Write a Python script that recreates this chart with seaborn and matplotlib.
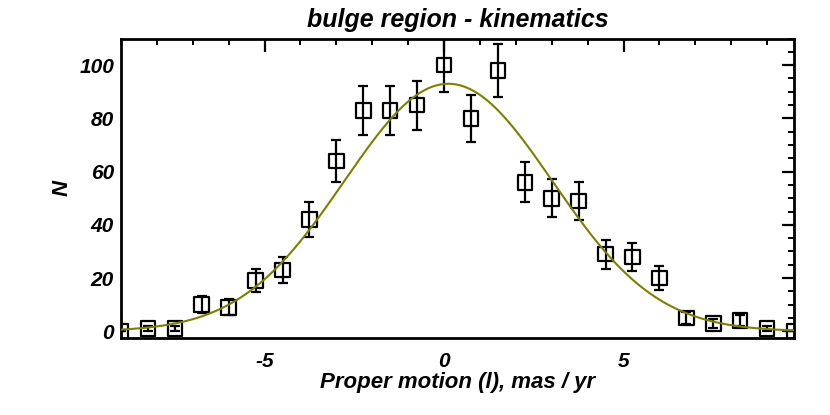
import numpy as np
import pandas as pd
import matplotlib
matplotlib.use("Agg")
import matplotlib.pyplot as plt
import seaborn as sns
from matplotlib.ticker import MultipleLocator
from matplotlib import font_manager

# ---- data ----
pm = [-9.0, -8.25, -7.5, -6.75, -6.0, -5.25, -4.5, -3.75, -3.0, -2.25, -1.5, -0.75,
      0.0, 0.75, 1.5, 2.25, 3.0, 3.75, 4.5, 5.25, 6.0, 6.75, 7.5, 8.25, 9.0, 9.75]
counts = [0, 1, 1, 10, 9, 19, 23, 42, 64, 83, 83, 85,
          100, 80, 98, 56, 50, 49, 29, 28, 20, 5, 3, 4, 1, 0]
errors = [0, 1, 1, 3.2, 3.0, 4.4, 4.8, 6.5, 8.0, 9.1, 9.1, 9.2,
          10.0, 8.9, 9.9, 7.5, 7.1, 7.0, 5.4, 5.3, 4.5, 2.2, 1.7, 2.0, 1.0, 0]
# Gaussian fit parameters (amplitude, centre, sigma)
fit_amp, fit_mu, fit_sigma = 93.0, 0.12, 2.9

title = "bulge region - kinematics"
xlabel = "Proper motion (l), mas / yr"
ylabel = "N"

sns.set_theme(style="white")
names = {f.name for f in font_manager.fontManager.ttflist}
narrow = [n for n in ['Liberation Sans Narrow', 'DejaVu Sans Condensed'] if n in names]
plt.rcParams['font.family'] = narrow + ['Liberation Sans', 'DejaVu Sans']
plt.rcParams['axes.unicode_minus'] = False
plt.rcParams['text.color'] = 'black'
plt.rcParams['axes.labelcolor'] = 'black'
plt.rcParams['xtick.color'] = 'black'
plt.rcParams['ytick.color'] = 'black'

fig = plt.figure(figsize=(8.3, 4.15), dpi=100)
ax = fig.add_axes([121/830, 1-338/415, (794-121)/830, (338-38.5)/415])

df = pd.DataFrame({"pm": pm, "N": counts, "err": errors})
xs = np.linspace(-9.0, 9.75, 400)
curve = pd.DataFrame({"pm": xs,
                      "N": fit_amp * np.exp(-(xs - fit_mu) ** 2 / (2 * fit_sigma ** 2))})

ax.errorbar(df["pm"], df["N"], yerr=df["err"], fmt="none", ecolor="black",
            elinewidth=1.6, capsize=3.5, capthick=1.6, zorder=2)
sns.scatterplot(data=df, x="pm", y="N", marker="s", s=110, facecolor="none",
                edgecolor="black", linewidth=1.6, ax=ax, zorder=3)
sns.lineplot(data=curve, x="pm", y="N", color="#7f7f00", linewidth=1.5, ax=ax, zorder=4)

ax.set_xlim(-9.0, 9.75)
ax.set_ylim(-2.5, 110)
ax.xaxis.set_major_locator(MultipleLocator(5))
ax.xaxis.set_minor_locator(MultipleLocator(1))
ax.yaxis.set_major_locator(MultipleLocator(20))
ax.yaxis.set_minor_locator(MultipleLocator(5))
ax.tick_params(which="both", direction="in", top=True, right=True, color="black",
               labelsize=15, labelcolor="black")
ax.tick_params(axis="x", pad=10)
ax.tick_params(axis="y", pad=5)
ax.tick_params(which="major", length=9, width=1.6)
ax.tick_params(which="minor", length=4.5, width=1.4)
for lab in ax.get_xticklabels() + ax.get_yticklabels():
    lab.set_fontweight("bold")
    lab.set_fontstyle("italic")
for sp in ax.spines.values():
    sp.set_color("black")
    sp.set_linewidth(2)

ax.set_xlabel(xlabel, fontsize=16, fontweight="bold", fontstyle="italic", labelpad=1)
ax.set_ylabel(ylabel, fontsize=16, fontweight="bold", fontstyle="italic", labelpad=5)
ax.set_title(title, fontsize=18, fontweight="bold", fontstyle="italic", pad=8,
             family=['Liberation Sans', 'DejaVu Sans'])

fig.savefig("out.png", dpi=100)
